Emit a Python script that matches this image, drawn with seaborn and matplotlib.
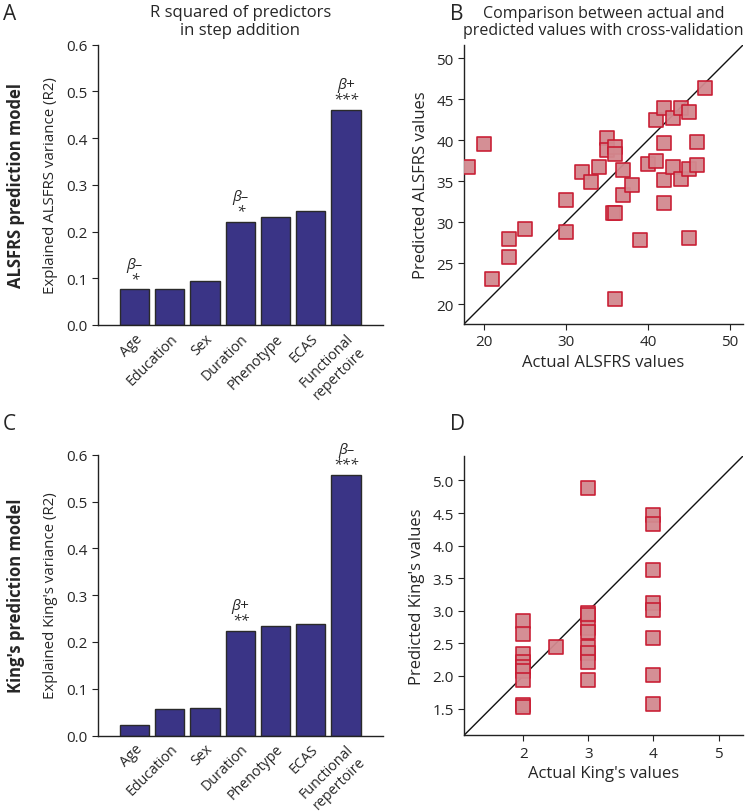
import numpy as np
import pandas as pd
import matplotlib
matplotlib.use("Agg")
import matplotlib.pyplot as plt
import seaborn as sns

# ---------------- data ----------------
predictors = ["Age", "Education", "Sex", "Duration", "Phenotype", "ECAS", "Functional\nrepertoire"]
r2_alsfrs = [0.076, 0.076, 0.094, 0.221, 0.231, 0.244, 0.461]
r2_kings = [0.022, 0.057, 0.058, 0.224, 0.235, 0.239, 0.557]
annot_alsfrs = {0: "β–\n*", 3: "β–\n*", 6: "β+\n***"}
annot_kings = {3: "β+\n**", 6: "β–\n***"}

alsfrs_actual = [18, 20, 21, 23, 23, 25, 30, 30, 32, 33, 34, 35, 35, 36, 36, 35.7, 36, 36,
                 37, 37, 38, 39, 40, 41, 42, 42, 42, 43, 44, 45, 46, 46, 45, 41, 42, 43, 44, 45, 47]
alsfrs_pred = [36.7, 39.5, 23.1, 27.9, 25.7, 29.2, 32.7, 28.8, 36.1, 34.9, 36.7, 40.2, 38.8, 39.1,
               38.3, 31.1, 31.1, 20.6, 36.3, 33.3, 34.5, 27.8, 37.1, 37.5, 32.3, 35.1, 39.7, 36.7,
               35.2, 36.5, 36.9, 39.8, 28.0, 42.4, 43.9, 42.7, 43.9, 43.4, 46.3]

kings_actual = [2, 2, 2, 2, 2, 2, 2, 2, 2,
                2.5,
                3, 3, 3, 3, 3, 3, 3, 3, 3,
                4, 4, 4, 4, 4, 4, 4, 4]
kings_pred = [2.85, 2.64, 2.34, 2.22, 2.14, 2.07, 1.94, 1.55, 1.52,
              2.44,
              4.89, 2.96, 2.93, 2.73, 2.68, 2.45, 2.35, 2.22, 1.94,
              4.47, 4.33, 3.63, 3.12, 3.02, 2.59, 2.02, 1.57]

alsfrs_ticks = [20, 25, 30, 35, 40, 45, 50]
alsfrs_xticks = [20, 30, 40, 50]
kings_xticks = [2, 3, 4, 5]
kings_yticks = [1.5, 2.0, 2.5, 3.0, 3.5, 4.0, 4.5, 5.0]
bar_yticks = [0.0, 0.1, 0.2, 0.3, 0.4, 0.5, 0.6]

# ---------------- style ----------------
sns.set_style("ticks")
plt.rcParams["font.family"] = ["Open Sans", "DejaVu Sans"]
TXT = "#262626"
plt.rcParams.update({
    "axes.edgecolor": "#222222",
    "axes.linewidth": 1.0,
    "xtick.color": "#222222",
    "ytick.color": "#222222",
    "xtick.labelcolor": TXT,
    "ytick.labelcolor": TXT,
    "xtick.major.size": 4,
    "ytick.major.size": 4,
    "xtick.labelsize": 11,
    "ytick.labelsize": 11,
})

BAR_COLOR = "#3a3486"
FILL = "#d2898f"
EDGE = "#c8182f"

fig = plt.figure(figsize=(7.5, 8.12), dpi=100)
W, H = 750.0, 812.0


def add_ax(l, t, r, b):
    return fig.add_axes([l / W, 1 - b / H, (r - l) / W, (b - t) / H])


axA = add_ax(98, 45.7, 383, 326)
axB = add_ax(464, 46, 743, 325)
axC = add_ax(98, 455.7, 383, 736.5)
axD = add_ax(464, 456.7, 743.3, 736.3)


def bar_panel(ax, values, annots, ylabel, model, model_y):
    df = pd.DataFrame({"predictor": predictors, "r2": values})
    sns.barplot(data=df, x="predictor", y="r2", color=BAR_COLOR, saturation=1,
                edgecolor="#2a2a2a", linewidth=1.0, width=0.83, ax=ax)
    ax.set_xlim(-1.04, 7.05)
    ax.set_ylim(0, 0.6)
    ax.set_yticks(bar_yticks)
    ax.set_yticklabels([f"{v:.1f}" for v in bar_yticks])
    ax.set_xlabel("")
    ax.set_ylabel(ylabel, fontsize=10.8, color=TXT, labelpad=6)
    plt.setp(ax.get_xticklabels(), rotation=45, ha="right", rotation_mode="anchor",
             multialignment="center", fontsize=10.3, color=TXT)
    ax.tick_params(axis="x", length=0, pad=4)
    sns.despine(ax=ax)
    for i, txt in annots.items():
        ax.text(i, values[i] + 0.006, txt, ha="center", va="bottom", fontsize=11,
                style="italic", color=TXT, linespacing=1.0)
    fig.text(16 / W, 1 - model_y / H, model, rotation=90, ha="center",
             va="center", fontsize=12, fontweight="bold", color=TXT)


bar_panel(axA, r2_alsfrs, annot_alsfrs, "Explained ALSFRS variance (R2)", "ALSFRS prediction model", 186)
bar_panel(axC, r2_kings, annot_kings, "Explained King's variance (R2)", "King's prediction model", 596)

axA.set_title("R squared of predictors\nin step addition", fontsize=12, color=TXT, pad=8,
              linespacing=1.1)
axB.set_title("Comparison between actual and\npredicted values with cross-validation",
              fontsize=11.5, color=TXT, pad=8, linespacing=1.1)


def scatter_panel(ax, xs, ys, lims, xticks, yticks, xlabel, ylabel, fmt):
    df = pd.DataFrame({"actual": xs, "pred": ys})
    sns.scatterplot(data=df, x="actual", y="pred", marker="s", s=92, color=FILL,
                    edgecolor=EDGE, linewidth=1.2, alpha=0.95, ax=ax, zorder=3)
    ax.axline((lims[0], lims[0]), slope=1, color="#111111", lw=1.0, zorder=2)
    ax.set_xlim(*lims)
    ax.set_ylim(*lims)
    ax.set_xticks(xticks)
    ax.set_yticks(yticks)
    ax.set_yticklabels([fmt.format(v) for v in yticks])
    ax.set_xlabel(xlabel, fontsize=12, color=TXT, labelpad=3)
    ax.set_ylabel(ylabel, fontsize=12, color=TXT, labelpad=5)
    sns.despine(ax=ax)


scatter_panel(axB, alsfrs_actual, alsfrs_pred, (17.56, 51.6), alsfrs_xticks, alsfrs_ticks,
              "Actual ALSFRS values", "Predicted ALSFRS values", "{:.0f}")
scatter_panel(axD, kings_actual, kings_pred, (1.09, 5.38), kings_xticks, kings_yticks,
              "Actual King's values", "Predicted King's values", "{:.1f}")

for lbl, x, y in [("A", 3, 20), ("B", 450, 20), ("C", 3, 430), ("D", 450, 430)]:
    fig.text(x / W, 1 - y / H, lbl, fontsize=15, color=TXT, ha="left", va="baseline")

fig.savefig("out.png", dpi=100)
